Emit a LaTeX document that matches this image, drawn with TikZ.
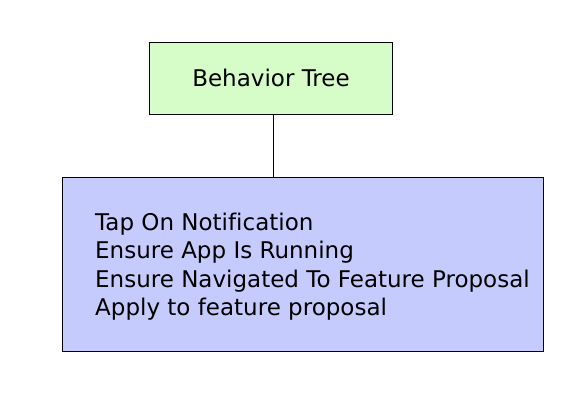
\documentclass[tikz,border=0pt]{standalone}
\usepackage{fontspec}
\setmainfont[Ligatures=NoCommon]{DejaVu Sans}
\definecolor{btgreen}{RGB}{214,252,200}
\definecolor{stepblue}{RGB}{197,203,252}
\begin{document}
\begin{tikzpicture}[x=1pt,y=-1pt,
  boxstyle/.style={draw=black,line width=1pt,inner sep=0pt},
  txt/.style={inner sep=0pt,font=\fontsize{23}{27}\selectfont},
  linetext/.style={txt,anchor=base west},
  conn/.style={draw=black,line width=1pt}]
\useasboundingbox (0,0) rectangle (584,401);
\node[boxstyle,fill=btgreen,minimum width=243pt,minimum height=72pt] (bt) at (270.5,79) {};
\node[txt,anchor=base] (btlabel) at (271,87) {Behavior Tree};
\node[boxstyle,fill=stepblue,minimum width=481pt,minimum height=173pt] (steps) at (302.5,264.5) {};
\node[linetext] (l1) at (95,230) {Tap On Notification};
\node[linetext] (l2) at (95,258.5) {Ensure App Is Running};
\node[linetext] (l3) at (95,287) {Ensure Navigated To Feature Proposal};
\node[linetext] (l4) at (95,315) {Apply to feature proposal};
\draw[conn] ([xshift=2.5pt]bt.south) -- ([xshift=2.5pt]bt.south |- steps.north);
\end{tikzpicture}
\end{document}
